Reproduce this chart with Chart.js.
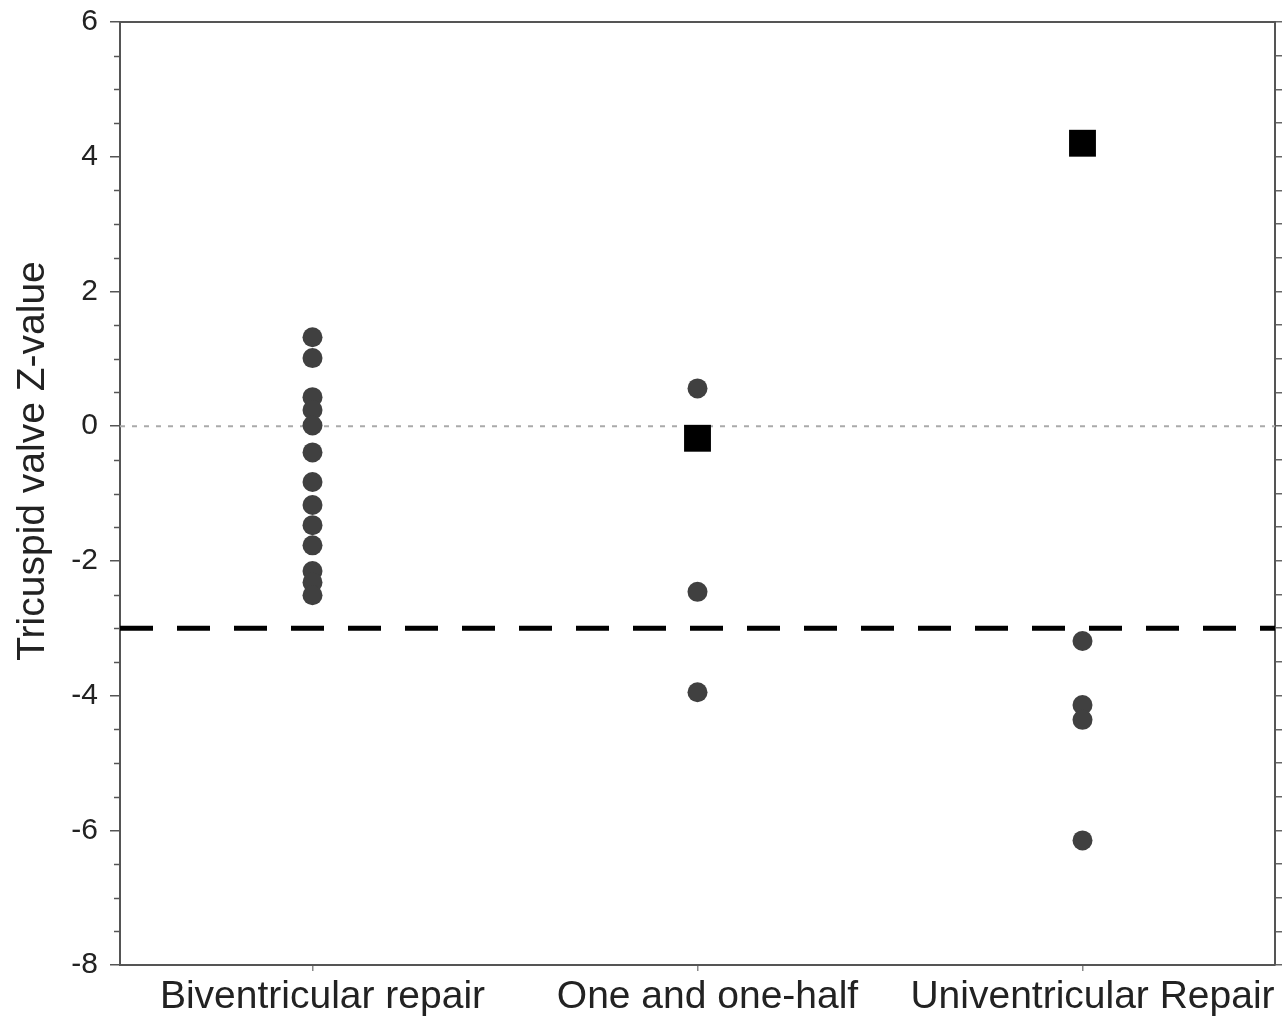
<!DOCTYPE html>
<html>
<head>
<meta charset="utf-8">
<script src="https://cdn.jsdelivr.net/npm/chart.js@4/dist/chart.umd.min.js"></script>
<style>
  html, body { margin: 0; padding: 0; background: #fff; overflow: hidden; }
  #wrap { width: 1283px; height: 1018px; overflow: hidden; }
  canvas { display: block; }
</style>
</head>
<body>
<div id="wrap"><canvas id="c" width="1283" height="1018"></canvas></div>
<script>
// ---- data ----
const categories = ['Biventricular repair', 'One and one-half', 'Univentricular Repair'];
const biventricularZ = [1.32, 1.01, 0.43, 0.24, 0.01, -0.39, -0.83, -1.17, -1.47, -1.77, -2.15, -2.32, -2.51];
const oneAndHalfZ = [0.56, -2.46, -3.95];
const univentricularZ = [-3.19, -4.14, -4.36, -6.15];
const meanZ = [null, -0.18, 4.2];
const yTickValues = [-8, -6, -4, -2, 0, 2, 4, 6];
const referenceZ = 0;
const cutoffZ = -3;
const yTitle = 'Tricuspid valve Z-value';

// ---- build datasets ----
const groups = [biventricularZ, oneAndHalfZ, univentricularZ];
const circlePts = [];
groups.forEach((arr, gi) => arr.forEach(v => circlePts.push({ x: gi + 1, y: v })));
const meanPts = [];
meanZ.forEach((v, gi) => { if (v !== null) meanPts.push({ x: gi + 1, y: v }); });

const X_MIN = 0.5, X_MAX = 3.5, Y_MIN = -8, Y_MAX = 6;

function zeroPad(scale) {
  scale.paddingLeft = 0; scale.paddingRight = 0; scale.paddingTop = 0; scale.paddingBottom = 0;
}

const framePlugin = {
  id: 'frame',
  afterDraw(chart) {
    const ctx = chart.ctx;
    const ca = chart.chartArea;
    const ys = chart.scales.y;
    ctx.save();
    ctx.strokeStyle = '#555';
    ctx.lineWidth = 2;
    ctx.beginPath();
    ctx.moveTo(ca.left, ca.top);
    ctx.lineTo(ca.right, ca.top);
    ctx.stroke();
    ctx.lineWidth = 1.5;
    for (let i = 0; i <= 28; i++) {
      const v = Y_MIN + i * 0.5;
      if (yTickValues.includes(v)) continue;
      const py = Math.round(ys.getPixelForValue(v)) + 0.5;
      ctx.beginPath();
      ctx.moveTo(ca.left - 6, py);
      ctx.lineTo(ca.left, py);
      ctx.stroke();
    }
    ctx.fillStyle = '#222';
    ctx.font = '39px "Liberation Sans"';
    ctx.textAlign = 'center';
    ctx.textBaseline = 'middle';
    ctx.translate(33, 461);
    ctx.rotate(-Math.PI / 2);
    ctx.fillText(yTitle, 0, 0);
    ctx.restore();
  }
};

new Chart(document.getElementById('c'), {
  type: 'scatter',
  data: {
    datasets: [
      {
        label: 'means',
        data: meanPts,
        pointStyle: 'rect',
        pointRadius: 19,
        pointHoverRadius: 19,
        backgroundColor: '#000',
        borderColor: '#000',
        borderWidth: 0,
        order: 0
      },
      {
        label: 'patients',
        data: circlePts,
        pointStyle: 'circle',
        pointRadius: 10,
        pointHoverRadius: 10,
        backgroundColor: '#404040',
        borderColor: '#404040',
        borderWidth: 0,
        order: 1
      },
      {
        label: 'cutoff',
        type: 'line',
        data: [{ x: X_MIN, y: cutoffZ }, { x: X_MAX, y: cutoffZ }],
        borderColor: '#000',
        borderWidth: 5,
        borderDash: [33, 24],
        pointRadius: 0,
        fill: false,
        order: 2
      },
      {
        label: 'zero',
        type: 'line',
        data: [{ x: X_MIN, y: referenceZ }, { x: X_MAX, y: referenceZ }],
        borderColor: '#aaa',
        borderWidth: 2,
        borderDash: [5, 7],
        pointRadius: 0,
        fill: false,
        order: 3
      }
    ]
  },
  options: {
    responsive: false,
    animation: false,
    devicePixelRatio: 1,
    layout: { autoPadding: false, padding: { top: 22, left: 0, right: 0, bottom: 0 } },
    plugins: { legend: { display: false }, tooltip: { enabled: false } },
    scales: {
      x: {
        type: 'linear',
        min: X_MIN,
        max: X_MAX,
        afterBuildTicks(scale) { scale.ticks = categories.map((c, i) => ({ value: i + 1 })); },
        afterFit(scale) { scale.height = 53; zeroPad(scale); },
        ticks: {
          callback: (v) => categories[Math.round(v) - 1] || '',
          font: { family: 'Liberation Sans', size: 39 },
          color: '#222',
          padding: 3,
          maxRotation: 0,
          autoSkip: false,
          labelOffset: 10
        },
        grid: { drawOnChartArea: false, tickLength: 6, color: '#888', lineWidth: 1.5 },
        border: { display: true, color: '#555', width: 2 }
      },
      y: {
        type: 'linear',
        position: 'left',
        min: Y_MIN,
        max: Y_MAX,
        afterBuildTicks(scale) { scale.ticks = yTickValues.map(v => ({ value: v })); },
        afterFit(scale) { scale.width = 120; zeroPad(scale); },
        ticks: {
          font: { family: 'Liberation Sans', size: 30 },
          color: '#222',
          padding: 12
        },
        grid: { drawOnChartArea: false, tickLength: 10, color: '#555', lineWidth: 1.5 },
        border: { display: true, color: '#555', width: 2 },
        title: { display: false }
      },
      y2: {
        type: 'linear',
        position: 'right',
        min: Y_MIN,
        max: Y_MAX,
        afterBuildTicks(scale) {
          const t = [];
          for (let i = 0; i <= 28; i++) t.push({ value: Y_MIN + i * 0.5 });
          scale.ticks = t;
        },
        afterFit(scale) { scale.width = 8; zeroPad(scale); },
        ticks: { display: false },
        grid: { drawOnChartArea: false, tickLength: 7, color: '#666', lineWidth: 1.5 },
        border: { display: true, color: '#555', width: 2 }
      }
    }
  },
  plugins: [framePlugin]
});
</script>
</body>
</html>
